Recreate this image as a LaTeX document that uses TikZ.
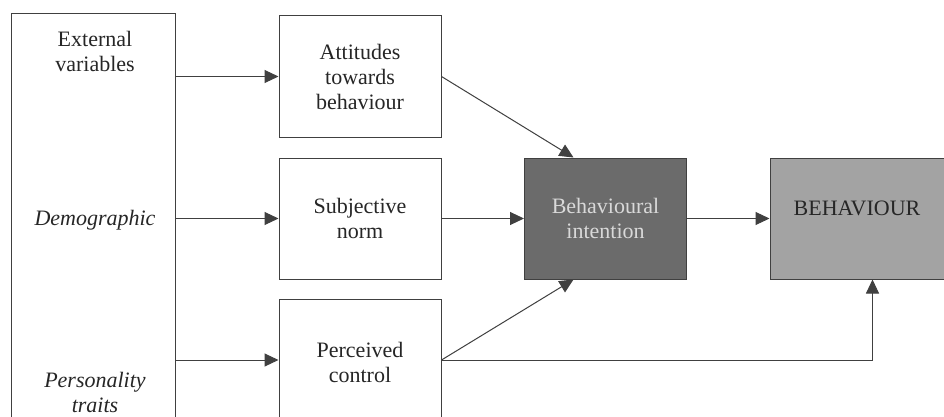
\documentclass[tikz,border=0pt]{standalone}
\usepackage{fontspec}
\setmainfont{Liberation Serif}
\usetikzlibrary{arrows.meta,calc}
\definecolor{linec}{gray}{0.25}
\definecolor{bifill}{gray}{0.42}
\definecolor{behfill}{gray}{0.64}
\begin{document}
\begin{tikzpicture}[x=1pt,y=-1pt,
  txt/.style={align=center, font=\fontsize{22}{25}\selectfont, inner sep=0pt, text=black!85},
  box/.style={txt, draw=linec, line width=1pt, minimum width=162pt, minimum height=121pt},
  conn/.style={draw=linec, line width=1pt, -{Triangle[length=14pt,width=13pt]}},
]
\useasboundingbox (0,0) rectangle (944,417);
\clip (0,0) rectangle (944,417);
\fill[white] (0,0) rectangle (944,417);
% left column
\node[draw=linec, line width=1pt, minimum width=164pt, minimum height=440pt, inner sep=0pt] (ext) at (93,234) {};
\node[txt] (extt) at (95,51) {External\\variables};
\node[txt, font=\fontsize{22}{25}\selectfont\itshape] (demo) at (95,220) {Demographic};
\node[txt, font=\fontsize{22}{25}\selectfont\itshape] (pers) at (95,392) {Personality\\traits};
% middle column
\node[box] (att) at (360,76.5) {Attitudes\\towards\\behaviour};
\node[box] (subj) at (360,218.5) {Subjective\\norm};
\node[box, minimum height=130pt] (per) at (360,364) {};
\node[txt] (pert) at (360,362) {Perceived\\control};
% right
\node[box, fill=bifill, text=black!15] (bi) at (605.5,218.5) {Behavioural\\intention};
\node[box, fill=behfill, minimum width=190pt] (beh) at (865,218.5) {};
\node[txt] (beht) at (857,208) {BEHAVIOUR};
% connectors
\draw[conn] (ext.east |- att.west) -- (att.west);
\draw[conn] (ext.east |- subj.west) -- (subj.west);
\draw[conn] (ext.east |- 0,360) -- (per.west |- 0,360);
\draw[conn] (att.east) -- ([xshift=-32pt]bi.north);
\draw[conn] (subj.east) -- (bi.west);
\draw[conn] (per.east |- 0,360) -- ([xshift=-32pt]bi.south);
\draw[conn] (bi.east) -- (beh.west);
\draw[conn] (per.east |- 0,360) -| ($(beh.south west)+(103,0)$);
\end{tikzpicture}
\end{document}
